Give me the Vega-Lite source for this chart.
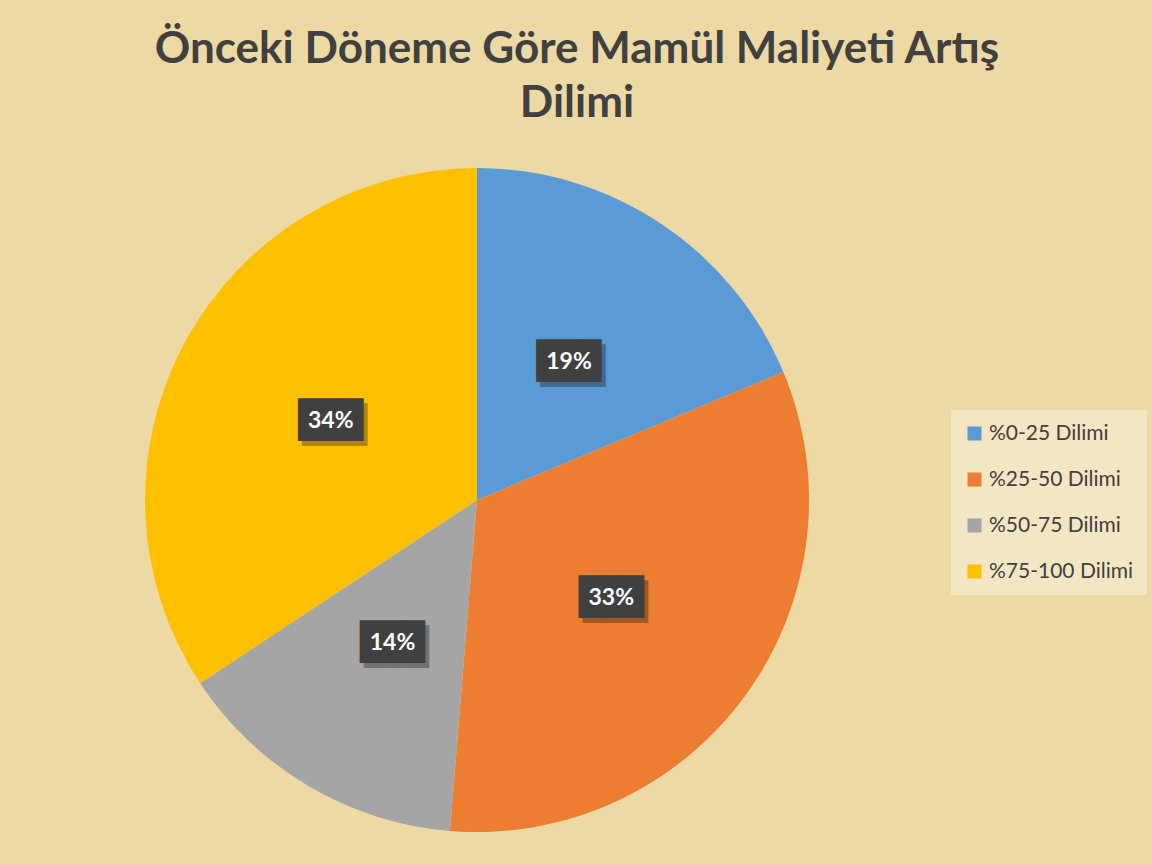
{
  "$schema": "https://vega.github.io/schema/vega-lite/v6.json",
  "autosize": {"type": "none"},
  "width": 664,
  "height": 664,
  "padding": {"left": 145, "top": 168, "right": 343, "bottom": 33},
  "background": "#EDD9A4",
  "title": {
    "text": ["Önceki Döneme Göre Mamül Maliyeti Artış", "Dilimi"],
    "anchor": "middle",
    "frame": "group",
    "dx": 100,
    "offset": 42,
    "font": "Lato",
    "fontSize": 44,
    "fontWeight": "bold",
    "color": "#404040",
    "lineHeight": 54
  },
  "data": {
    "values": [
      {"cat": "%0-25 Dilimi", "value": 18.7, "label": "19%", "ord": 1},
      {"cat": "%25-50 Dilimi", "value": 32.6, "label": "33%", "ord": 2},
      {"cat": "%50-75 Dilimi", "value": 14.4, "label": "14%", "ord": 3},
      {"cat": "%75-100 Dilimi", "value": 34.3, "label": "34%", "ord": 4}
    ]
  },
  "encoding": {
    "theta": {"field": "value", "type": "quantitative", "stack": true},
    "order": {"field": "ord", "type": "quantitative"}
  },
  "layer": [
    {
      "mark": {"type": "arc", "outerRadius": 332},
      "encoding": {
        "color": {
          "field": "cat",
          "type": "nominal",
          "scale": {
            "domain": ["%0-25 Dilimi", "%25-50 Dilimi", "%50-75 Dilimi", "%75-100 Dilimi"],
            "range": ["#5B9BD5", "#ED7D31", "#A5A5A5", "#FFC000"]
          },
          "legend": {
            "title": null,
            "orient": "none",
            "legendX": 806,
            "legendY": 242,
            "fillColor": "rgba(248,241,218,0.55)",
            "padding": 13,
            "symbolType": "square",
            "symbolSize": 196,
            "symbolStrokeWidth": 0,
            "labelFont": "Lato",
            "labelFontSize": 21,
            "labelColor": "#404040",
            "labelOffset": 4,
            "rowPadding": 24
          }
        }
      }
    },
    {
      "mark": {"type": "text", "radius": 166, "text": "███", "font": "DejaVu Sans Mono", "fontSize": 36, "color": "#000000", "opacity": 0.3, "dx": 4, "dy": 5, "baseline": "middle"},
      "encoding": {"detail": {"field": "cat"}}
    },
    {
      "mark": {"type": "text", "radius": 166, "text": "███", "font": "DejaVu Sans Mono", "fontSize": 36, "color": "#404040", "baseline": "middle"},
      "encoding": {"detail": {"field": "cat"}}
    },
    {
      "mark": {"type": "text", "radius": 166, "font": "Lato", "fontSize": 23, "fontWeight": "bold", "color": "#FFFFFF", "baseline": "middle"},
      "encoding": {"detail": {"field": "cat"}, "text": {"field": "label"}}
    }
  ],
  "config": {"view": {"stroke": null}}
}
